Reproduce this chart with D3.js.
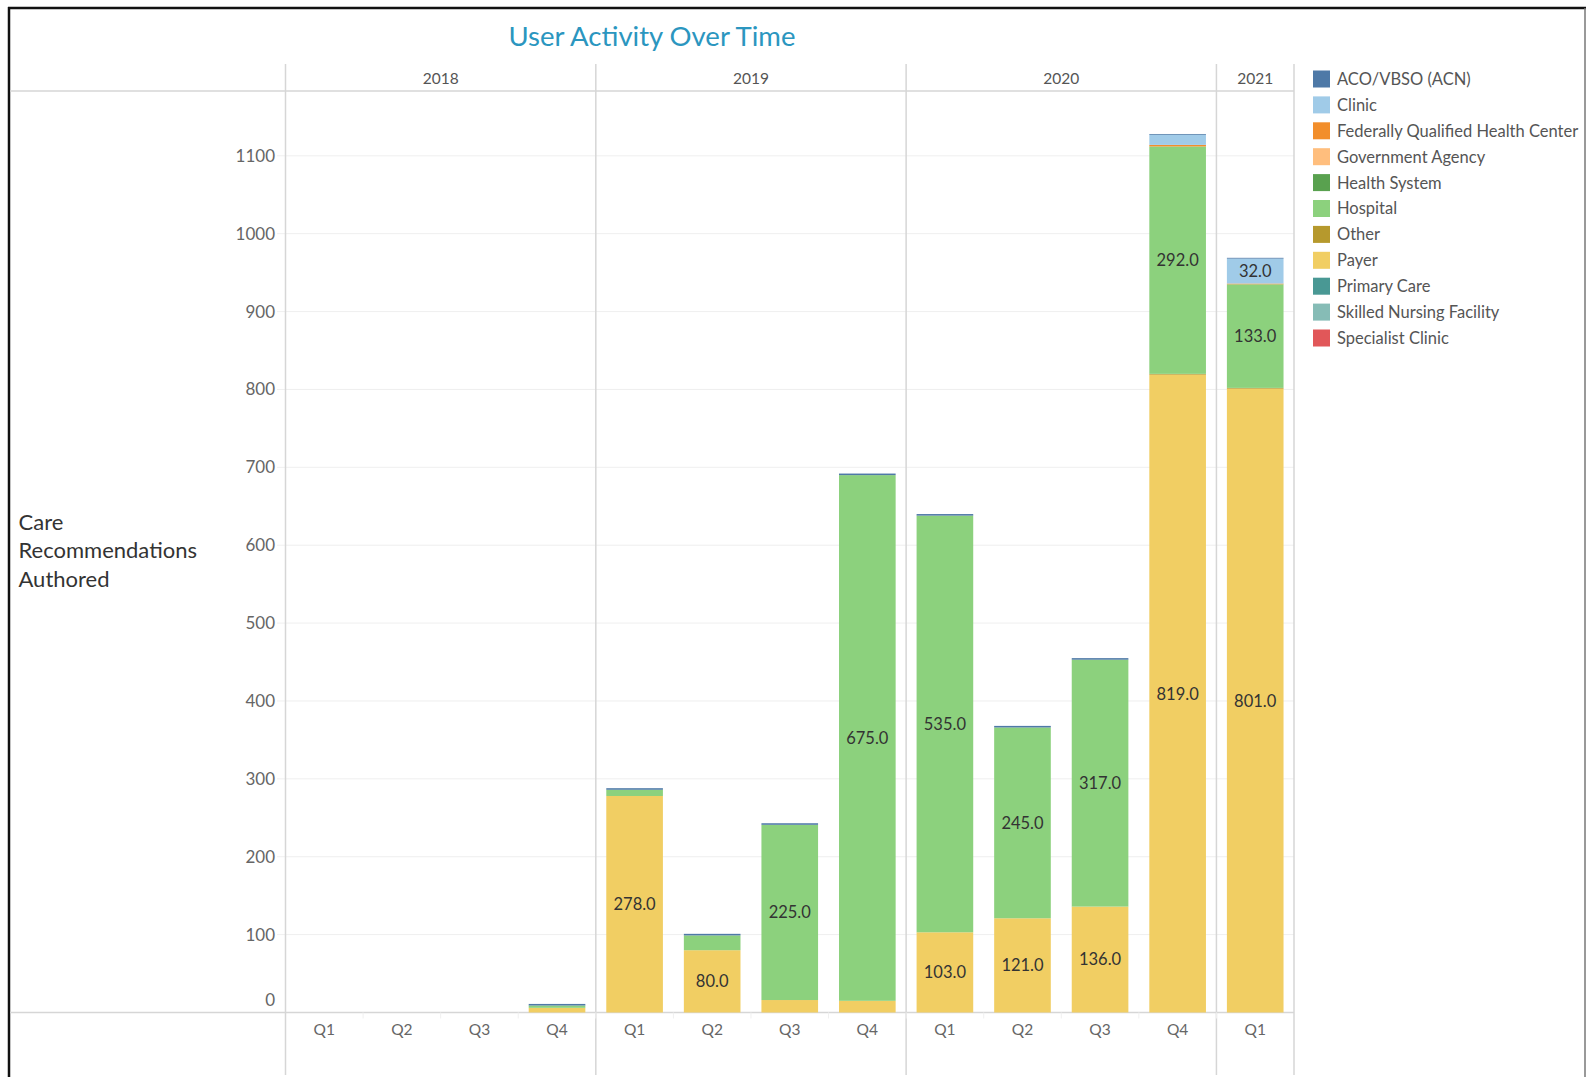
<!DOCTYPE html>
<html>
<head>
<meta charset="utf-8">
<script src="https://cdn.jsdelivr.net/npm/d3@7"></script>
<style>
  html, body { margin: 0; padding: 0; background: #fff; }
  svg { display: block; font-family: Lato, "Open Sans", sans-serif; }
</style>
</head>
<body>
<svg id="chart" width="1586" height="1077"></svg>
<script>
// ---------------- data ----------------
const years = ["2018", "2019", "2020", "2021"];
const quarters = [
  {year: "2018", q: "Q1"}, {year: "2018", q: "Q2"}, {year: "2018", q: "Q3"}, {year: "2018", q: "Q4"},
  {year: "2019", q: "Q1"}, {year: "2019", q: "Q2"}, {year: "2019", q: "Q3"}, {year: "2019", q: "Q4"},
  {year: "2020", q: "Q1"}, {year: "2020", q: "Q2"}, {year: "2020", q: "Q3"}, {year: "2020", q: "Q4"},
  {year: "2021", q: "Q1"}
];
const categories = ["ACO/VBSO (ACN)", "Clinic", "Federally Qualified Health Center", "Government Agency",
  "Health System", "Hospital", "Other", "Payer", "Primary Care", "Skilled Nursing Facility", "Specialist Clinic"];
const colors = ["#4E79A7", "#A0CBE8", "#F28E2B", "#FFBE7D", "#59A14F", "#8CD17D", "#B6992D", "#F1CE63",
  "#499894", "#86BCB6", "#E15759"];
// values per quarter (order of quarters above)
const acoValues      = [0, 0, 0, 2, 2, 2, 2, 2, 2, 2, 2, 1, 1];
const clinicValues   = [0, 0, 0, 0, 0, 0, 0, 0, 0, 0, 0, 13, 32];
const fqhcValues     = [0, 0, 0, 0, 0, 0, 0, 0, 0, 0, 0, 2, 1];
const govValues      = [0, 0, 0, 0, 0, 0, 0, 0, 0, 0, 0, 0, 0];
const healthSysValues= [0, 0, 0, 0, 0, 0, 0, 0, 0, 0, 0, 0, 0];
const hospitalValues = [0, 0, 0, 3, 8, 19, 225, 675, 535, 245, 317, 292, 133];
const otherValues    = [0, 0, 0, 0, 0, 0, 0, 0, 0, 0, 0, 1, 1];
const payerValues    = [0, 0, 0, 6, 278, 80, 16, 15, 103, 121, 136, 819, 801];
const primaryValues  = [0, 0, 0, 0, 0, 0, 0, 0, 0, 0, 0, 0, 0];
const snfValues      = [0, 0, 0, 0, 0, 0, 0, 0, 0, 0, 0, 0, 0];
const specValues     = [0, 0, 0, 0, 0, 0, 0, 0, 0, 0, 0, 0, 0];
const seriesValues = [acoValues, clinicValues, fqhcValues, govValues, healthSysValues, hospitalValues,
  otherValues, payerValues, primaryValues, snfValues, specValues];
const yTicks = [0, 100, 200, 300, 400, 500, 600, 700, 800, 900, 1000, 1100];
const titleText = "User Activity Over Time";
const yTitleLines = ["Care", "Recommendations", "Authored"];

// ---------------- layout ----------------
const svg = d3.select("#chart");
const paneLeft = 285.5, paneRight = 1294, paneTop = 91, paneBottom = 1012.5;
const headerTop = 64, frameBottom = 1077;

const rows = quarters.map((d, i) => {
  const r = {key: d.year + "-" + d.q, year: d.year, q: d.q};
  categories.forEach((c, j) => r[c] = seriesValues[j][i]);
  return r;
});

const x = d3.scaleBand().domain(rows.map(d => d.key)).range([paneLeft, paneRight])
  .paddingInner(0.27).paddingOuter(0.135);
const y = d3.scaleLinear().domain([0, 1100]).range([paneBottom, paneBottom - 856.7]);

// stack order: bottom -> top is reverse of legend order
const stackKeys = categories.slice().reverse();
const stack = d3.stack().keys(stackKeys)(rows);
const color = d3.scaleOrdinal().domain(categories).range(colors);

// frame
svg.append("line").attr("x1", 9).attr("x2", 9).attr("y1", 7).attr("y2", frameBottom)
  .attr("stroke", "#111").attr("stroke-width", 2.5);
svg.append("line").attr("x1", 8).attr("x2", 1586).attr("y1", 8).attr("y2", 8)
  .attr("stroke", "#111").attr("stroke-width", 2.5);
svg.append("line").attr("x1", 1585).attr("x2", 1585).attr("y1", 8).attr("y2", frameBottom)
  .attr("stroke", "#777").attr("stroke-width", 1.5);

// title
svg.append("text").attr("x", 652).attr("y", 45.5).attr("text-anchor", "middle")
  .attr("font-size", 27.5).attr("fill", "#2B96BF").text(titleText);

// gridlines
svg.append("g").selectAll("line").data(yTicks.filter(t => t > 0)).join("line")
  .attr("x1", paneLeft).attr("x2", paneRight)
  .attr("y1", d => y(d)).attr("y2", d => y(d))
  .attr("stroke", "#efefef").attr("stroke-width", 1);

// y axis labels
const yAxis = d3.axisLeft(y).tickValues(yTicks).tickSize(0).tickPadding(0).tickFormat(d3.format("d"));
const yg = svg.append("g").attr("transform", `translate(275,0)`).call(yAxis);
yg.select(".domain").remove();
yg.selectAll(".tick text").attr("font-size", 17).attr("fill", "#666")
  .attr("font-family", "Lato, sans-serif");
yg.selectAll(".tick").filter(d => d === 0).select("text").attr("dy", "-0.4em");
// faint tick stubs
svg.append("g").selectAll("line").data(yTicks.filter(t => t > 0)).join("line")
  .attr("x1", 277).attr("x2", paneLeft).attr("y1", d => y(d)).attr("y2", d => y(d))
  .attr("stroke", "#f0f0f0");

// header line & axis line
svg.append("line").attr("x1", 10).attr("x2", paneRight).attr("y1", paneTop).attr("y2", paneTop)
  .attr("stroke", "#d6d6d6").attr("stroke-width", 1.5);
svg.append("line").attr("x1", 10).attr("x2", paneRight).attr("y1", paneBottom).attr("y2", paneBottom)
  .attr("stroke", "#d6d6d6").attr("stroke-width", 1.5);

// year separators
const step = x.step();
function bandStart(k) { return x(k) - (step - x.bandwidth()) / 2; }
function bandEnd(k) { return x(k) + x.bandwidth() + (step - x.bandwidth()) / 2; }
const yearBounds = years.map(yr => ({year: yr, ks: rows.filter(r => r.year === yr).map(r => r.key)}));
const sepXs = [paneLeft];
yearBounds.forEach(b => sepXs.push(bandEnd(b.ks[b.ks.length - 1])));
sepXs[sepXs.length - 1] = paneRight;
svg.append("g").selectAll("line").data(sepXs).join("line")
  .attr("x1", d => d).attr("x2", d => d).attr("y1", headerTop).attr("y2", 1075)
  .attr("stroke", "#d6d6d6").attr("stroke-width", 1.5);

// year header labels
svg.append("g").selectAll("text").data(yearBounds).join("text")
  .attr("x", b => (bandStart(b.ks[0]) + bandEnd(b.ks[b.ks.length - 1])) / 2)
  .attr("y", 83.5).attr("text-anchor", "middle").attr("font-size", 15.5).attr("fill", "#555")
  .text(b => b.year);

// faint quarter ticks below axis
svg.append("g").selectAll("line").data(rows.slice(0, -1)).join("line")
  .attr("x1", d => bandEnd(d.key)).attr("x2", d => bandEnd(d.key))
  .attr("y1", paneBottom).attr("y2", paneBottom + 6)
  .attr("stroke", "#f0f0f0");

// x axis quarter labels
const xAxis = d3.axisBottom(x).tickSize(0).tickPadding(10).tickFormat(k => k.split("-")[1]);
const xg = svg.append("g").attr("transform", `translate(0,${paneBottom + 1})`).call(xAxis);
xg.select(".domain").remove();
xg.selectAll(".tick text").attr("font-size", 15.5).attr("fill", "#666")
  .attr("font-family", "Lato, sans-serif");

// y title
svg.append("text").attr("x", 18.5).attr("y", 530).attr("font-size", 22).attr("fill", "#333")
  .selectAll("tspan").data(yTitleLines).join("tspan")
  .attr("x", 18.5).attr("dy", (d, i) => i === 0 ? 0 : 28.3).text(d => d);

// bars
const layers = svg.append("g").selectAll("g").data(stack).join("g")
  .attr("fill", d => color(d.key));
layers.selectAll("rect").data(d => d).join("rect")
  .attr("x", d => x(d.data.key))
  .attr("width", x.bandwidth())
  .attr("y", d => y(d[1]))
  .attr("height", d => y(d[0]) - y(d[1]));

// value labels
const labels = [];
stack.forEach(layer => layer.forEach(d => {
  const h = y(d[0]) - y(d[1]);
  if (h >= 22) labels.push({x: x(d.data.key) + x.bandwidth() / 2, y: (y(d[0]) + y(d[1])) / 2, v: d[1] - d[0]});
}));
svg.append("g").selectAll("text").data(labels).join("text")
  .attr("x", d => d.x).attr("y", d => d.y).attr("dy", "0.36em")
  .attr("text-anchor", "middle").attr("font-size", 16.5).attr("fill", "#333")
  .text(d => d3.format(".1f")(d.v));

// legend
const lg = svg.append("g").attr("transform", "translate(1313,70.5)");
const items = lg.selectAll("g").data(categories).join("g")
  .attr("transform", (d, i) => `translate(0,${i * 25.9})`);
items.append("rect").attr("width", 17).attr("height", 17).attr("fill", d => color(d));
items.append("text").attr("x", 24).attr("y", 8.5).attr("dy", "0.36em")
  .attr("font-size", 16.5).attr("fill", "#555").text(d => d);
</script>
</body>
</html>
